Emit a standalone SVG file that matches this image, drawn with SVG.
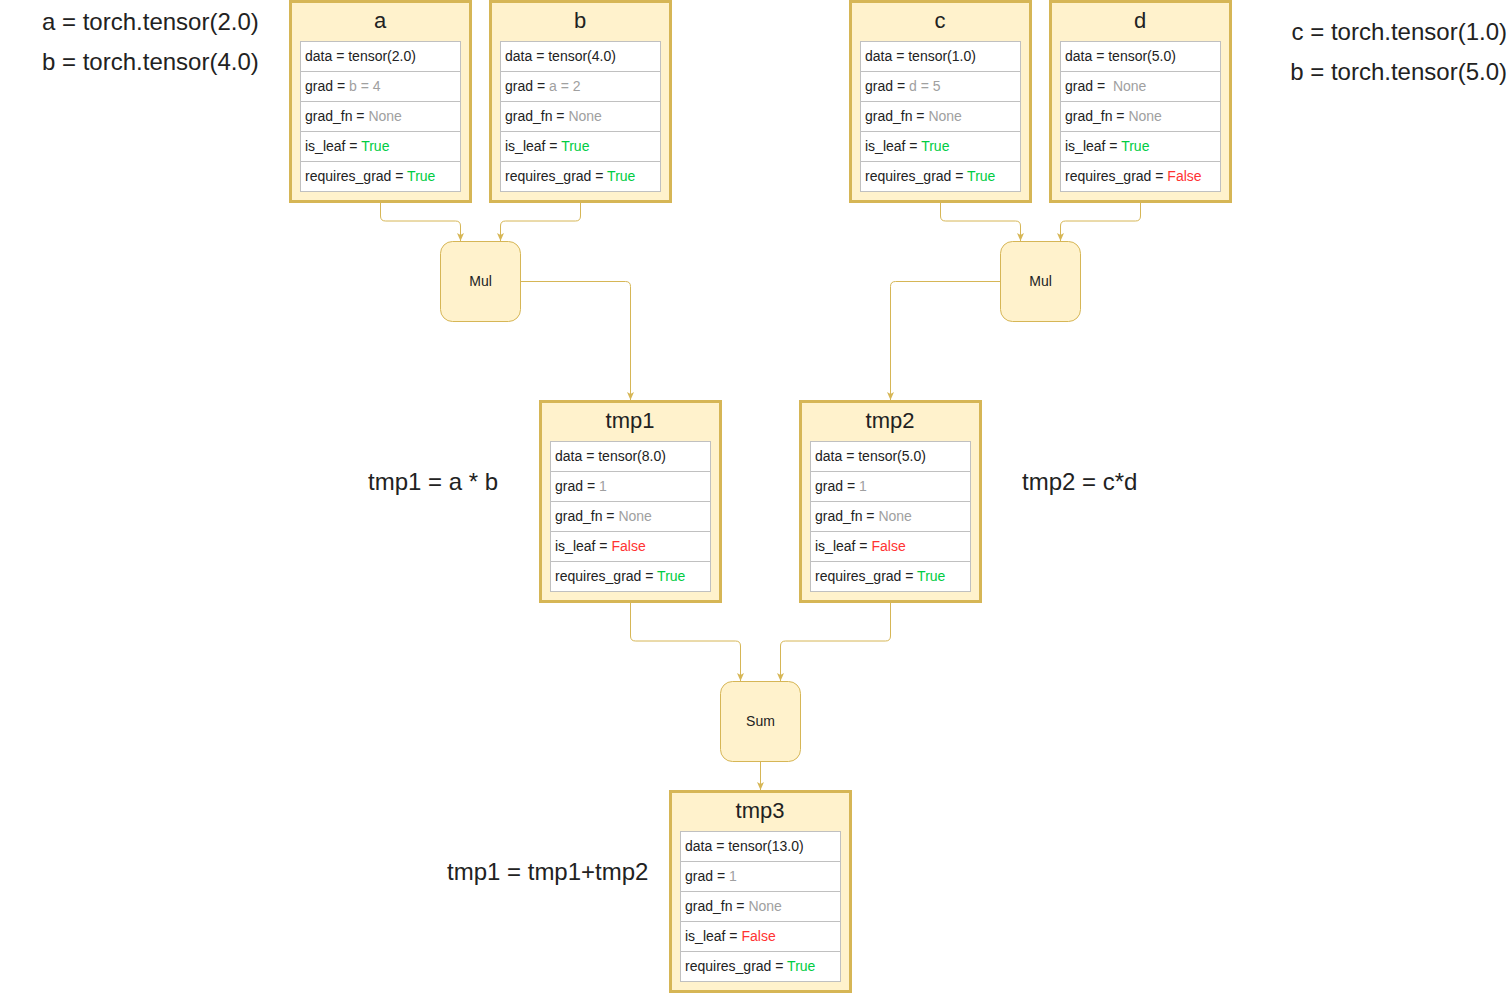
<svg xmlns="http://www.w3.org/2000/svg" width="1511" height="993" viewBox="0 0 1511 993">
<style>
text{font-family:"Liberation Sans",Arial,sans-serif;fill:#222222}
.box{fill:#fff2cc;stroke:#d6b656;stroke-width:3}
.op{fill:#fff2cc;stroke:#d6b656;stroke-width:1}
.row{fill:#ffffff;stroke:#c0c0c0;stroke-width:1}
.title{font-size:22px;text-anchor:middle}
.rt{font-size:14px}
.optext{font-size:14px;text-anchor:middle}
.lbl{font-size:24px}
.g{fill:#a0a0a0}
.ok{fill:#00cc44}
.no{fill:#ff3333}
.edge{fill:none;stroke:#d6b656;stroke-width:1}
</style>
<defs>
<marker id="arr" markerUnits="userSpaceOnUse" viewBox="0 0 8 8" refX="8" refY="4" markerWidth="8" markerHeight="8" orient="auto">
<path d="M0,0.5 L8,4 L0,7.5 L2,4 Z" fill="#d6b656"/>
</marker>
<g id="tbl">
<rect class="row" x="10.5" y="40.5" width="160" height="30"/>
<rect class="row" x="10.5" y="70.5" width="160" height="30"/>
<rect class="row" x="10.5" y="100.5" width="160" height="30"/>
<rect class="row" x="10.5" y="130.5" width="160" height="30"/>
<rect class="row" x="10.5" y="160.5" width="160" height="30"/>
</g>
</defs>

<g id="labels">
<text class="lbl" x="42" y="30">a = torch.tensor(2.0)</text>
<text class="lbl" x="42" y="70">b = torch.tensor(4.0)</text>
<text class="lbl" x="1507" y="40" text-anchor="end">c = torch.tensor(1.0)</text>
<text class="lbl" x="1507" y="80" text-anchor="end">b = torch.tensor(5.0)</text>
<text class="lbl" x="368" y="490">tmp1 = a * b</text>
<text class="lbl" x="1022" y="490">tmp2 = c*d</text>
<text class="lbl" x="447" y="880">tmp1 = tmp1+tmp2</text>
</g>

<g id="connectors">
<path class="edge" marker-end="url(#arr)" d="M380.5,203 L380.5,216 Q380.5,221 385.5,221 L455.5,221 Q460.5,221 460.5,226 L460.5,241"/>
<path class="edge" marker-end="url(#arr)" d="M580.5,203 L580.5,216 Q580.5,221 575.5,221 L505.5,221 Q500.5,221 500.5,226 L500.5,241"/>
<path class="edge" marker-end="url(#arr)" d="M940.5,203 L940.5,216 Q940.5,221 945.5,221 L1015.5,221 Q1020.5,221 1020.5,226 L1020.5,241"/>
<path class="edge" marker-end="url(#arr)" d="M1140.5,203 L1140.5,216 Q1140.5,221 1135.5,221 L1065.5,221 Q1060.5,221 1060.5,226 L1060.5,241"/>
<path class="edge" marker-end="url(#arr)" d="M520.5,281.5 L625.5,281.5 Q630.5,281.5 630.5,286.5 L630.5,400"/>
<path class="edge" marker-end="url(#arr)" d="M1000.5,281.5 L895.5,281.5 Q890.5,281.5 890.5,286.5 L890.5,400"/>
<path class="edge" marker-end="url(#arr)" d="M630.5,603 L630.5,636 Q630.5,641 635.5,641 L735.5,641 Q740.5,641 740.5,646 L740.5,681"/>
<path class="edge" marker-end="url(#arr)" d="M890.5,603 L890.5,636 Q890.5,641 885.5,641 L785.5,641 Q780.5,641 780.5,646 L780.5,681"/>
<path class="edge" marker-end="url(#arr)" d="M760.5,761 L760.5,790"/>
</g>

<g id="node-a" transform="translate(290,1)">
<rect class="box" x="0.5" y="0.5" width="180" height="200"/>
<text class="title" x="90" y="27">a</text>
<use href="#tbl"/>
<text class="rt" x="15" y="60">data = tensor(2.0)</text>
<text class="rt" x="15" y="90">grad = <tspan class="g">b = 4</tspan></text>
<text class="rt" x="15" y="120">grad_fn = <tspan class="g">None</tspan></text>
<text class="rt" x="15" y="150">is_leaf = <tspan class="ok">True</tspan></text>
<text class="rt" x="15" y="180">requires_grad = <tspan class="ok">True</tspan></text>
</g>

<g id="node-b" transform="translate(490,1)">
<rect class="box" x="0.5" y="0.5" width="180" height="200"/>
<text class="title" x="90" y="27">b</text>
<use href="#tbl"/>
<text class="rt" x="15" y="60">data = tensor(4.0)</text>
<text class="rt" x="15" y="90">grad = <tspan class="g">a = 2</tspan></text>
<text class="rt" x="15" y="120">grad_fn = <tspan class="g">None</tspan></text>
<text class="rt" x="15" y="150">is_leaf = <tspan class="ok">True</tspan></text>
<text class="rt" x="15" y="180">requires_grad = <tspan class="ok">True</tspan></text>
</g>

<g id="node-c" transform="translate(850,1)">
<rect class="box" x="0.5" y="0.5" width="180" height="200"/>
<text class="title" x="90" y="27">c</text>
<use href="#tbl"/>
<text class="rt" x="15" y="60">data = tensor(1.0)</text>
<text class="rt" x="15" y="90">grad = <tspan class="g">d = 5</tspan></text>
<text class="rt" x="15" y="120">grad_fn = <tspan class="g">None</tspan></text>
<text class="rt" x="15" y="150">is_leaf = <tspan class="ok">True</tspan></text>
<text class="rt" x="15" y="180">requires_grad = <tspan class="ok">True</tspan></text>
</g>

<g id="node-d" transform="translate(1050,1)">
<rect class="box" x="0.5" y="0.5" width="180" height="200"/>
<text class="title" x="90" y="27">d</text>
<use href="#tbl"/>
<text class="rt" x="15" y="60">data = tensor(5.0)</text>
<text class="rt" x="15" y="90" xml:space="preserve">grad =  <tspan class="g">None</tspan></text>
<text class="rt" x="15" y="120">grad_fn = <tspan class="g">None</tspan></text>
<text class="rt" x="15" y="150">is_leaf = <tspan class="ok">True</tspan></text>
<text class="rt" x="15" y="180">requires_grad = <tspan class="no">False</tspan></text>
</g>

<g id="node-mul1">
<rect class="op" x="440.5" y="241.5" width="80" height="80" rx="12"/>
<text class="optext" x="480.5" y="286">Mul</text>
</g>

<g id="node-mul2">
<rect class="op" x="1000.5" y="241.5" width="80" height="80" rx="12"/>
<text class="optext" x="1040.5" y="286">Mul</text>
</g>

<g id="node-tmp1" transform="translate(540,401)">
<rect class="box" x="0.5" y="0.5" width="180" height="200"/>
<text class="title" x="90" y="27">tmp1</text>
<use href="#tbl"/>
<text class="rt" x="15" y="60">data = tensor(8.0)</text>
<text class="rt" x="15" y="90">grad = <tspan class="g">1</tspan></text>
<text class="rt" x="15" y="120">grad_fn = <tspan class="g">None</tspan></text>
<text class="rt" x="15" y="150">is_leaf = <tspan class="no">False</tspan></text>
<text class="rt" x="15" y="180">requires_grad = <tspan class="ok">True</tspan></text>
</g>

<g id="node-tmp2" transform="translate(800,401)">
<rect class="box" x="0.5" y="0.5" width="180" height="200"/>
<text class="title" x="90" y="27">tmp2</text>
<use href="#tbl"/>
<text class="rt" x="15" y="60">data = tensor(5.0)</text>
<text class="rt" x="15" y="90">grad = <tspan class="g">1</tspan></text>
<text class="rt" x="15" y="120">grad_fn = <tspan class="g">None</tspan></text>
<text class="rt" x="15" y="150">is_leaf = <tspan class="no">False</tspan></text>
<text class="rt" x="15" y="180">requires_grad = <tspan class="ok">True</tspan></text>
</g>

<g id="node-sum">
<rect class="op" x="720.5" y="681.5" width="80" height="80" rx="12"/>
<text class="optext" x="760.5" y="726">Sum</text>
</g>

<g id="node-tmp3" transform="translate(670,791)">
<rect class="box" x="0.5" y="0.5" width="180" height="200"/>
<text class="title" x="90" y="27">tmp3</text>
<use href="#tbl"/>
<text class="rt" x="15" y="60">data = tensor(13.0)</text>
<text class="rt" x="15" y="90">grad = <tspan class="g">1</tspan></text>
<text class="rt" x="15" y="120">grad_fn = <tspan class="g">None</tspan></text>
<text class="rt" x="15" y="150">is_leaf = <tspan class="no">False</tspan></text>
<text class="rt" x="15" y="180">requires_grad = <tspan class="ok">True</tspan></text>
</g>
</svg>
